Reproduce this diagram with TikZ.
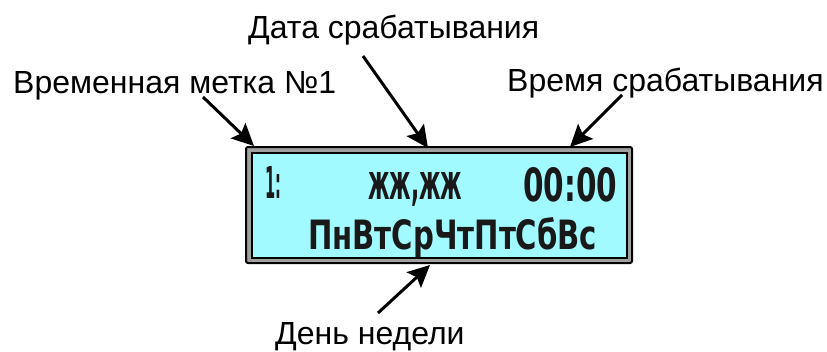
\documentclass[tikz,border=0pt]{standalone}
\usepackage{fontspec}
\setmainfont{Liberation Sans}
\newfontfamily\lcdfont{DejaVu Sans}
\usetikzlibrary{arrows.meta}
\definecolor{lcdcyan}{RGB}{160,250,255}
\definecolor{lcdgray}{RGB}{160,160,160}
\definecolor{lcdink}{RGB}{25,25,25}
\tikzset{
  lbl/.style={inner sep=0pt, anchor=base west, font=\fontsize{32}{34}\selectfont},
  pointer/.style={line width=3pt, -{Stealth[length=22pt,width=21pt,inset=4pt]}},
  seg/.style={inner sep=0pt, anchor=base west, text=lcdink, font=\lcdfont\bfseries}
}
\begin{document}
\begin{tikzpicture}[x=1pt,y=-1pt]
\useasboundingbox (0,0) rectangle (827,351);
% LCD
\draw[line width=2pt, fill=lcdgray, rounded corners=2pt] (246,147) rectangle (632,263);
\draw[line width=1.4pt, fill=lcdcyan] (252,153) rectangle (627,258);
\node (lcd) at (439,205) [minimum width=386pt, minimum height=116pt, inner sep=0pt] {};
% LCD text
\node[seg] (num) at (265,198) {\resizebox{16pt}{32pt}{1:}};
\node[seg] (date) at (368,199) {\resizebox{94pt}{27pt}{жж,жж}};
\node[seg] (time) at (523,201) {\resizebox{94pt}{34pt}{00:00}};
\node[seg] (days) at (308,249) {\resizebox{289pt}{32pt}{ПнВтСрЧтПтСбВс}};
% labels
\node[lbl] (l1) at (13,93) {Временная метка №1};
\node[lbl] (l2) at (248,38) {Дата срабатывания};
\node[lbl] (l3) at (507,91) {Время срабатывания};
\node[lbl] (l4) at (275,344) {День недели};
% arrow coordinates
\coordinate (a1s) at (203,97);  \coordinate (a1e) at (254,146);
\coordinate (a2s) at (363,56);  \coordinate (a2e) at (428,148);
\coordinate (a3s) at (622,95);  \coordinate (a3e) at (570,147);
\coordinate (a4s) at (378,313); \coordinate (a4e) at (430,265);
\draw[pointer] (a1s) -- (a1e);
\draw[pointer] (a2s) -- (a2e);
\draw[pointer] (a3s) -- (a3e);
\draw[pointer] (a4s) -- (a4e);
\end{tikzpicture}
\end{document}
